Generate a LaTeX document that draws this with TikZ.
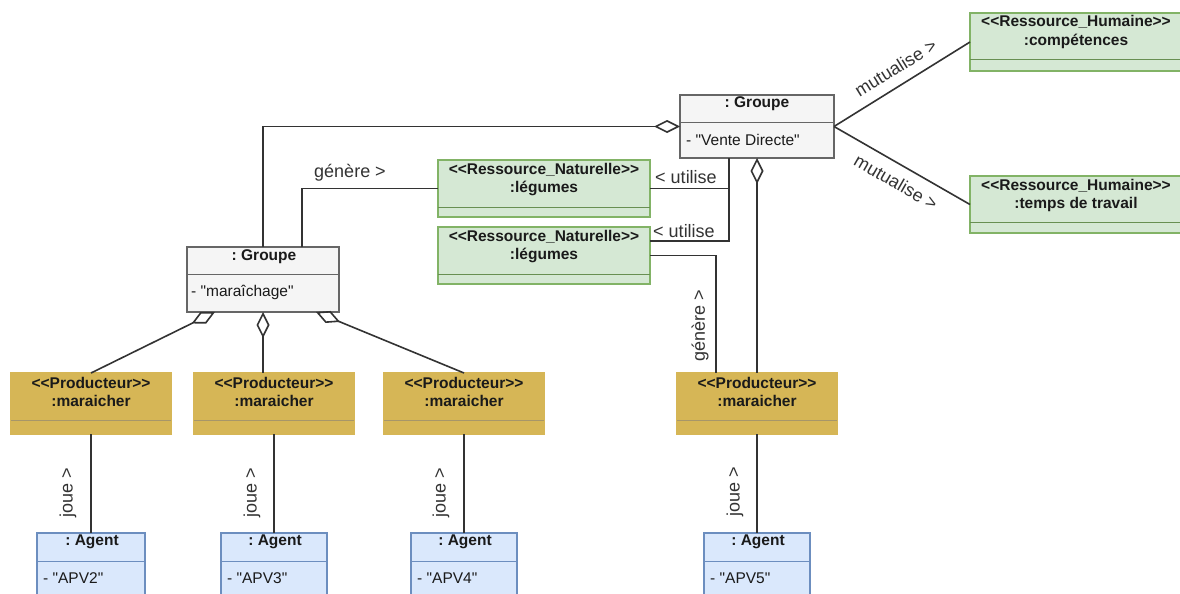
\documentclass[tikz,border=0pt]{standalone}
\usepackage{fontspec}
\newfontfamily\lib{Liberation Sans}
\frenchspacing
\usetikzlibrary{arrows.meta}
\definecolor{gfill}{HTML}{F5F5F5}
\definecolor{gline}{HTML}{666666}
\definecolor{nfill}{HTML}{D5E8D4}
\definecolor{nline}{HTML}{82B366}
\definecolor{pfill}{HTML}{D6B656}
\definecolor{pline}{HTML}{B8A060}
\definecolor{afill}{HTML}{DAE8FC}
\definecolor{aline}{HTML}{6C8EBF}
\definecolor{txt}{HTML}{1A1A1A}
\definecolor{conn}{HTML}{333333}
\tikzset{
  graybox/.style={draw=gline,fill=gfill,line width=1.3pt},
  greenbox/.style={draw=nline,fill=nfill,line width=1.3pt},
  prodbox/.style={draw=pfill,fill=pfill,line width=1.3pt},
  agentbox/.style={draw=aline,fill=afill,line width=1.3pt},
  graydiv/.style={draw=gline,line width=1pt},
  greendiv/.style={draw=nline!80!black,line width=1pt},
  proddiv/.style={draw=pline!70!gray,line width=1pt},
  agentdiv/.style={draw=aline,line width=1pt},
  hdr/.style={font=\lib\frenchspacing\fontsize{15.5}{17}\selectfont\bfseries,text=txt,inner sep=0pt},
  attr/.style={font=\lib\frenchspacing\fontsize{15.5}{17}\selectfont,text=txt,inner sep=0pt,anchor=west},
  lbl/.style={font=\lib\fontsize{18}{20}\selectfont,text=conn,inner sep=0pt},
  cn/.style={draw=conn,line width=1.6pt},
  agg/.style={draw=conn,line width=1.6pt},
}
\newcommand\umlbox[7]{%
  \node[#2box,inner sep=0pt,outer sep=0pt,minimum width={#5-#3},minimum height={#6-#4}]
     (#1) at ({(#3+#5)/2},{(#4+#6)/2}) {};
  \draw[#2div] (#3,#7) -- (#5,#7);
}
\begin{document}
\begin{tikzpicture}[x=1pt,y=-1pt]
\useasboundingbox (0,0) rectangle (1180,594);
\clip (0,0) rectangle (1180,594);
\fill[white] (0,0) rectangle (1180,594);

% boxes
\umlbox{vd}{gray}{680}{95}{834}{158}{122}
\umlbox{mar}{gray}{187}{247}{339}{312}{274}
\umlbox{rhc}{green}{970}{13}{1182}{71}{60}
\umlbox{rht}{green}{970}{176}{1182}{233}{222}
\umlbox{rna}{green}{438}{160}{650}{217}{207}
\umlbox{rnb}{green}{438}{227}{650}{284}{274}
\umlbox{pa}{prod}{11}{373}{171}{434}{420}
\umlbox{pb}{prod}{194}{373}{354}{434}{420}
\umlbox{pc}{prod}{384}{373}{544}{434}{420}
\umlbox{pd}{prod}{677}{373}{837}{434}{420}
\umlbox{aa}{agent}{37}{533}{145}{620}{561}
\umlbox{ab}{agent}{221}{533}{327}{620}{561}
\umlbox{ac}{agent}{411}{533}{517}{620}{561}
\umlbox{ad}{agent}{704}{533}{810}{620}{561}

% texts
\node[hdr] (vdh) at (757,104) {: Groupe};
\node[attr] (vda) at (686,140) {- "Vente Directe"};
\node[hdr] (marh) at (264,257) {: Groupe};
\node[attr] (mara) at (191,292) {- "maraîchage"};
\node[hdr] (rhc1) at (1076,22) {<<Ressource\_Humaine>>};
\node[hdr] (rhc2) at (1076,41) {:compétences};
\node[hdr] (rht1) at (1076,186) {<<Ressource\_Humaine>>};
\node[hdr] (rht2) at (1076,204) {:temps de travail};
\node[hdr] (rna1) at (544,170) {<<Ressource\_Naturelle>>};
\node[hdr] (rna2) at (544,188) {:légumes};
\node[hdr] (rnb1) at (544,237) {<<Ressource\_Naturelle>>};
\node[hdr] (rnb2) at (544,255) {:légumes};
\foreach \n/\x in {pa/91,pb/274,pc/464,pd/757}{
  \node[hdr] (\n1) at (\x,383) {<<Producteur>>};
  \node[hdr] (\n2) at (\x,401) {:maraicher};
}
\foreach \n/\x/\l/\v in {aa/92/43/2,ab/275/227/3,ac/465/417/4,ad/758/710/5}{
  \node[hdr] (\n1) at (\x,542) {: Agent};
  \node[attr] (\n2) at (\l,578) {- "APV\v"};
}

% connectors
\draw[agg,-{Diamond[open,length=26pt,width=13pt]}] (mar.north) |- (vd.west);
\draw[cn] ([xshift=39pt]mar.north) |- (rna.west);
\node[lbl] (lg1) at (350,173) {génère >};
\draw[cn] (rna.east) -| ([xshift=-28pt]vd.south);
\draw[cn] ([yshift=14.5pt]rnb.east) -| ([xshift=-28pt]vd.south);
\node[lbl] (lu1) at (686,177) {< utilise};
\node[lbl] (lu2) at (684,231) {< utilise};
\draw[cn] (rnb.east) -| ([xshift=-41pt]pd.north);
\node[lbl,rotate=90] (lg2) at (700,326) {génère >};
\draw[agg,{Diamond[open,length=26pt,width=13pt]}-] (vd.south) -- (pd.north);
\draw[cn] (vd.east) -- (rhc.west) node[lbl,pos=0.52,sloped,above=10pt] (lm1) {mutualise >};
\draw[cn] (vd.east) -- (rht.west) node[lbl,pos=0.52,sloped,below=10pt] (lm2) {mutualise >};

\draw[agg,{Diamond[open,length=26pt,width=13pt]}-] ([xshift=-48pt]mar.south) -- (pa.north);
\draw[agg,{Diamond[open,length=26pt,width=13pt]}-] (mar.south) -- (mar.south |- pb.north);
\draw[agg,{Diamond[open,length=26pt,width=13pt]}-] ([xshift=53pt]mar.south) -- (pc.north);

\draw[cn] (pa.south) -- (pa.south |- aa.north);
\draw[cn] (pb.south) -- (pb.south |- ab.north);
\draw[cn] (pc.south) -- (pc.south |- ac.north);
\draw[cn] (pd.south) -- (pd.south |- ad.north);
\node[lbl,rotate=90] (lj1) at (68,493) {joue >};
\node[lbl,rotate=90] (lj2) at (252,493) {joue >};
\node[lbl,rotate=90] (lj3) at (441,493) {joue >};
\node[lbl,rotate=90] (lj4) at (735,492) {joue >};
\end{tikzpicture}
\end{document}
